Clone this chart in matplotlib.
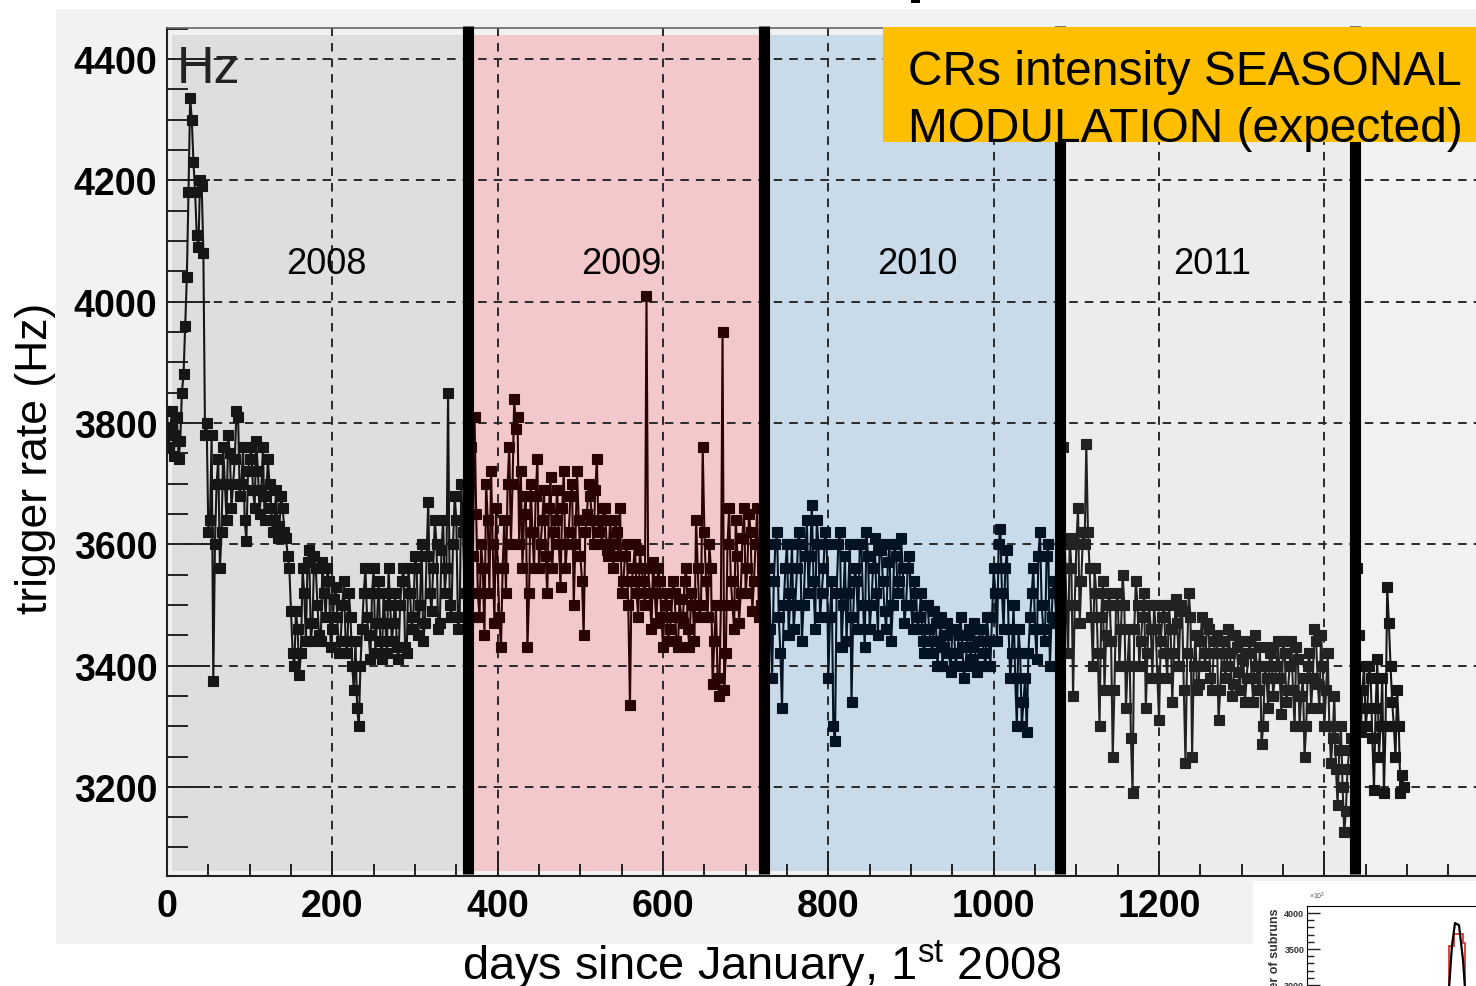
import matplotlib
matplotlib.use('Agg')

import numpy as np
from matplotlib import pyplot as plt
from matplotlib.patches import Rectangle
from matplotlib.ticker import MultipleLocator

plt.rcParams['font.family'] = ['Liberation Sans', 'DejaVu Sans']
plt.rcParams['mathtext.fontset'] = 'custom'
plt.rcParams['mathtext.rm'] = 'Liberation Sans'

# trigger rate (Hz) per year: readings every 4 days from the start day,
# plus a second set taken 2 days later
step = 4
start_2008 = 0
rate_2008 = [3820, 3790, 3745, 3810, 3770, 3880, 4040, 4335, 4230, 4110, 4200, 4080,
             3800, 3640, 3375, 3700, 3560, 3760, 3640, 3750, 3700, 3820, 3680, 3760,
             3605, 3740, 3690, 3770, 3650, 3760, 3680, 3700, 3620, 3690, 3630, 3660,
             3610, 3560, 3420, 3490, 3385, 3560, 3440, 3590, 3470, 3560, 3450, 3570,
             3480, 3540, 3460, 3530, 3420, 3500, 3440, 3520, 3400, 3440, 3300, 3460,
             3560, 3450, 3520, 3420, 3540, 3410, 3470, 3560, 3440, 3520, 3410, 3540,
             3430, 3560, 3460, 3580, 3450, 3600, 3470, 3670, 3490, 3640, 3460, 3590,
             3520, 3850, 3480, 3680, 3460, 3700, 3520]
rate_2008_mid = [3760, 3820, 3780, 3740, 3850, 3960, 4180, 4300, 4180, 4090, 4190, 3780,
                 3620, 3780, 3600, 3740, 3620, 3700, 3780, 3660, 3740, 3810, 3700, 3640,
                 3720, 3760, 3660, 3720, 3690, 3640, 3740, 3660, 3640, 3610, 3680, 3620,
                 3580, 3490, 3400, 3460, 3420, 3520, 3570, 3440, 3580, 3500, 3440, 3520,
                 3560, 3430, 3510, 3480, 3440, 3540, 3420, 3480, 3360, 3330, 3400, 3520,
                 3480, 3410, 3560, 3470, 3440, 3520, 3420, 3500, 3470, 3430, 3500, 3560,
                 3420, 3520, 3480, 3560, 3500, 3440, 3580, 3520, 3560, 3600, 3470, 3640,
                 3560, 3500, 3600, 3640, 3480, 3620]
start_2009 = 368
rate_2009 = [3760, 3810, 3520, 3600, 3450, 3640, 3720, 3470, 3560, 3430, 3640, 3700,
             3600, 3840, 3810, 3720, 3650, 3430, 3700, 3560, 3740, 3600, 3690, 3520,
             3710, 3620, 3690, 3530, 3720, 3600, 3680, 3500, 3720, 3580, 3450, 3650,
             3680, 3600, 3740, 3640, 3660, 3590, 3640, 3560, 3620, 3660, 3540, 3600,
             3335, 3560, 3520, 3590, 3540, 4010, 3520, 3570, 3470, 3540, 3430, 3520,
             3460, 3540, 3440, 3510, 3470, 3560, 3430, 3500, 3640, 3480, 3760, 3540,
             3600, 3370, 3500, 3350, 3950, 3420, 3660, 3500, 3640, 3470, 3610, 3520,
             3650, 3490, 3600, 3480, 3560]
rate_2009_mid = [3580, 3650, 3480, 3560, 3700, 3520, 3600, 3660, 3480, 3560, 3520, 3760,
                 3700, 3790, 3600, 3560, 3680, 3520, 3620, 3680, 3560, 3640, 3580, 3660,
                 3560, 3640, 3600, 3660, 3560, 3620, 3700, 3600, 3640, 3540, 3620, 3700,
                 3640, 3690, 3620, 3600, 3660, 3580, 3600, 3640, 3580, 3520, 3580, 3500,
                 3540, 3600, 3480, 3560, 3500, 3560, 3460, 3520, 3560, 3480, 3500, 3440,
                 3480, 3520, 3430, 3480, 3540, 3460, 3520, 3440, 3560, 3500, 3620, 3480,
                 3560, 3440, 3380, 3500, 3360, 3600, 3540, 3460, 3580, 3520, 3660, 3560,
                 3620, 3540, 3660, 3500]
start_2010 = 728
rate_2010 = [3560, 3380, 3600, 3480, 3330, 3560, 3450, 3600, 3500, 3620, 3440, 3580,
             3520, 3665, 3460, 3600, 3520, 3620, 3380, 3540, 3275, 3600, 3430, 3580,
             3520, 3340, 3560, 3460, 3600, 3430, 3580, 3500, 3610, 3450, 3590, 3490,
             3570, 3440, 3600, 3520, 3610, 3470, 3560, 3500, 3540, 3460, 3520, 3420,
             3500, 3440, 3490, 3400, 3480, 3430, 3470, 3390, 3460, 3420, 3480, 3380,
             3450, 3410, 3470, 3390, 3460, 3420, 3480, 3400, 3560, 3440, 3625, 3460,
             3590, 3380, 3500, 3300, 3420, 3340, 3290, 3480, 3560, 3410, 3620, 3460,
             3580, 3400, 3540, 3470]
rate_2010_mid = [3460, 3540, 3620, 3420, 3500, 3600, 3520, 3460, 3560, 3600, 3500, 3640,
                 3580, 3540, 3640, 3480, 3560, 3600, 3480, 3300, 3520, 3620, 3500, 3440,
                 3600, 3480, 3540, 3600, 3500, 3620, 3460, 3560, 3520, 3600, 3540, 3460,
                 3600, 3500, 3580, 3540, 3560, 3500, 3580, 3460, 3520, 3480, 3440, 3500,
                 3460, 3420, 3470, 3440, 3400, 3450, 3420, 3460, 3400, 3450, 3430, 3400,
                 3460, 3430, 3400, 3440, 3460, 3400, 3440, 3480, 3520, 3600, 3520, 3560,
                 3460, 3420, 3380, 3460, 3300, 3380, 3420, 3520, 3460, 3580, 3500, 3440,
                 3600, 3480, 3520]
start_2011 = 1084
rate_2011 = [3760, 3500, 3610, 3350, 3600, 3470, 3620, 3765, 3560, 3400, 3520, 3300,
             3540, 3450, 3520, 3250, 3500, 3400, 3550, 3330, 3460, 3190, 3540, 3400,
             3480, 3330, 3500, 3380, 3460, 3310, 3480, 3420, 3500, 3340, 3510, 3400,
             3490, 3240, 3520, 3250, 3450, 3370, 3480, 3400, 3460, 3360, 3440, 3310,
             3420, 3380, 3460, 3350, 3450, 3390, 3440, 3340, 3420, 3380, 3450, 3360,
             3270, 3400, 3330, 3430, 3380, 3440, 3320, 3420, 3360, 3440, 3300, 3410,
             3350, 3250, 3400, 3330, 3460, 3370, 3450, 3300, 3420, 3240, 3350, 3170,
             3300, 3125, 3230, 3280]
rate_2011_mid = [3600, 3420, 3560, 3500, 3660, 3540, 3600, 3620, 3480, 3560, 3420, 3480,
                 3360, 3500, 3440, 3360, 3520, 3460, 3500, 3400, 3280, 3460, 3500, 3440,
                 3520, 3420, 3460, 3500, 3380, 3440, 3500, 3380, 3460, 3420, 3470, 3500,
                 3360, 3420, 3480, 3400, 3360, 3440, 3420, 3470, 3380, 3420, 3450, 3360,
                 3440, 3400, 3420, 3370, 3430, 3360, 3410, 3380, 3440, 3340, 3400, 3430,
                 3300, 3380, 3420, 3350, 3400, 3380, 3440, 3340, 3400, 3360, 3430, 3300,
                 3380, 3300, 3420, 3380, 3440, 3330, 3400, 3360, 3300, 3280, 3230, 3260,
                 3200, 3160, 3260]
start_2012 = 1440
rate_2012 = [3560, 3290, 3400, 3330, 3380, 3195, 3410, 3300, 3190, 3530, 3400, 3300,
             3360, 3190, 3200]
rate_2012_mid = [3450, 3360, 3300, 3400, 3280, 3330, 3250, 3380, 3300, 3470, 3340, 3250,
                 3300, 3220]

segments = [(start_2008, rate_2008, rate_2008_mid),
            (start_2009, rate_2009, rate_2009_mid),
            (start_2010, rate_2010, rate_2010_mid),
            (start_2011, rate_2011, rate_2011_mid),
            (start_2012, rate_2012, rate_2012_mid)]
point_colors = ['#161616', '#2a0303', '#031321', '#222222', '#161616']

year_names = ['2008', '2009', '2010', '2011']
year_edges = [364, 722, 1080, 1437]
year_label_days = [193, 550, 908, 1264]
span_colors = ['#dedede', '#f3c8ca', '#c9dbe8', '#edecea']

x_ticks = [0, 200, 400, 600, 800, 1000, 1200, 1400]
y_ticks = [3200, 3400, 3600, 3800, 4000, 4200, 4400]

# small histogram pasted in the lower right corner (units of 10^3)
inset_red_edges = [142, 147, 156, 158]
inset_red_counts = [3545, 3710, 3580]
inset_black_x = [138, 142, 145, 148, 152, 156, 158, 161]
inset_black_y = [1600, 2950, 3550, 3860, 3830, 3350, 2950, 1600]

W, H = 1476, 987


def fx(px):
    return px / W


def fy(py):
    return 1 - py / H


fig = plt.figure(figsize=(W / 100, H / 100), dpi=100)
fig.patch.set_facecolor('white')

# light grey panel behind the plot
fig.add_artist(Rectangle((fx(56), fy(945)), 1, (945 - 10) / H, transform=fig.transFigure,
                         facecolor='#f2f2f2', edgecolor='none', zorder=-1))

ax = fig.add_axes([fx(167), fy(877), 1600 * 0.8267 / W, 848 / H])
ax.set_facecolor('#f1f1f1')
ax.set_xlim(0, 1600)
ax.set_ylim(3053, 4451)
ax.set_axisbelow('line')

# coloured band for each year
lefts = [6] + year_edges[:-1]
for x0, x1, c in zip(lefts, year_edges, span_colors):
    ax.axvspan(x0, x1, ymin=0.006, ymax=0.9917, facecolor=c, edgecolor='none', zorder=1)

ax.grid(True, which='major', color='#2a2a2a', lw=1.4, linestyle=(0, (4.4, 3.6)))

for (start, vals, mids), c in zip(segments, point_colors):
    days = np.concatenate([start + step * np.arange(len(vals)),
                           start + 2 + step * np.arange(len(mids))])
    rates = np.concatenate([vals, mids])
    order = np.argsort(days)
    ax.plot(days[order], rates[order], '-', color=c, lw=1.5, marker='s', ms=7.5,
            mew=0.8, mec=c, zorder=3)

for d in year_edges:
    ax.axvline(d, ymin=0.002, ymax=1.0024, color='black', lw=8, clip_on=False,
               solid_capstyle='butt', zorder=4)

for d, name in zip(year_label_days, year_names):
    ax.text(d, 4047, name, ha='center', va='baseline', fontsize=26, zorder=5)

ax.set_xticks(x_ticks, labels=[str(t) for t in x_ticks], fontweight='bold')
ax.set_yticks(y_ticks, labels=[str(t) for t in y_ticks], fontweight='bold')
ax.xaxis.set_minor_locator(MultipleLocator(50))
ax.yaxis.set_minor_locator(MultipleLocator(50))
ax.tick_params(axis='y', which='major', direction='in', length=31, width=1.4, pad=7,
               labelsize=27, color='#222222')
ax.tick_params(axis='y', which='minor', direction='in', length=15, width=1.4, color='#222222')
ax.tick_params(axis='x', which='major', direction='in', length=18, width=1.4, pad=9,
               labelsize=27, color='#222222')
ax.tick_params(axis='x', which='minor', direction='in', length=8.6, width=1.4, color='#222222')

for side in ('left', 'bottom'):
    ax.spines[side].set_color('#222222')
    ax.spines[side].set_linewidth(1.5)
ax.spines['top'].set_color('#666666')
ax.spines['top'].set_linewidth(1.2)
ax.spines['right'].set_visible(False)

fig.text(fx(177), fy(83), 'Hz', fontsize=37.5, color='#222222', ha='left', va='baseline')

fig.text(fx(36), fy(458), 'trigger rate (Hz)', rotation=90, fontsize=32,
         ha='center', va='center')
fig.text(fx(462), fy(980), r'days since January, 1$^{\mathrm{st}}$ 2008', fontsize=33.8,
         ha='left', va='baseline')

# annotation box
fig.add_artist(Rectangle((fx(883), fy(143)), 1, (143 - 28) / H, transform=fig.transFigure,
                         facecolor='#fdbf00', edgecolor='none', zorder=5))
fig.text(fx(908), fy(85), 'CRs intensity SEASONAL', fontsize=34.5, ha='left',
         va='baseline', zorder=6)
fig.text(fx(908), fy(142), 'MODULATION (expected)', fontsize=34.5, ha='left',
         va='baseline', zorder=6)

# piece of a title glyph above the panel
fig.add_artist(Rectangle((fx(911), fy(4)), 9 / W, 4 / H, transform=fig.transFigure,
                         facecolor='black', edgecolor='none', zorder=5))

# corner histogram
fig.add_artist(Rectangle((fx(1253), 0), 1, (H - 882) / H, transform=fig.transFigure,
                         facecolor='white', edgecolor='none', zorder=5))
ins = fig.add_axes([fx(1307), fy(1087), 300 / W, 180 / H], zorder=6)
ins.set_xlim(0, 300)
ins.set_ylim(1597, 4097)
ins.plot(inset_black_x, inset_black_y, color='black', lw=1.6)
ins.stairs(inset_red_counts, inset_red_edges, baseline=1600, color='#cc2a2a', lw=1.2)
ins.set_xticks([])
ins.set_yticks([3000, 3500, 4000], labels=['3000', '3500', '4000'], fontweight='bold')
ins.yaxis.set_minor_locator(MultipleLocator(100))
ins.tick_params(axis='y', which='major', direction='in', length=9, width=1, pad=2,
                labelsize=6.5, color='#222222', labelcolor='#333333')
ins.tick_params(axis='y', which='minor', direction='in', length=5, width=1, color='#222222')
ins.spines['right'].set_visible(False)
ins.spines['bottom'].set_visible(False)
fig.text(fx(1309), fy(902), r'$\times10^{3}$', fontsize=5, color='#555555',
         ha='left', va='bottom', zorder=7)
fig.text(fx(1275), fy(909), 'Number of subruns', rotation=90, fontsize=9,
         fontweight='bold', color='#333333', ha='center', va='top', zorder=7)

fig.savefig('out.png', dpi=100)
